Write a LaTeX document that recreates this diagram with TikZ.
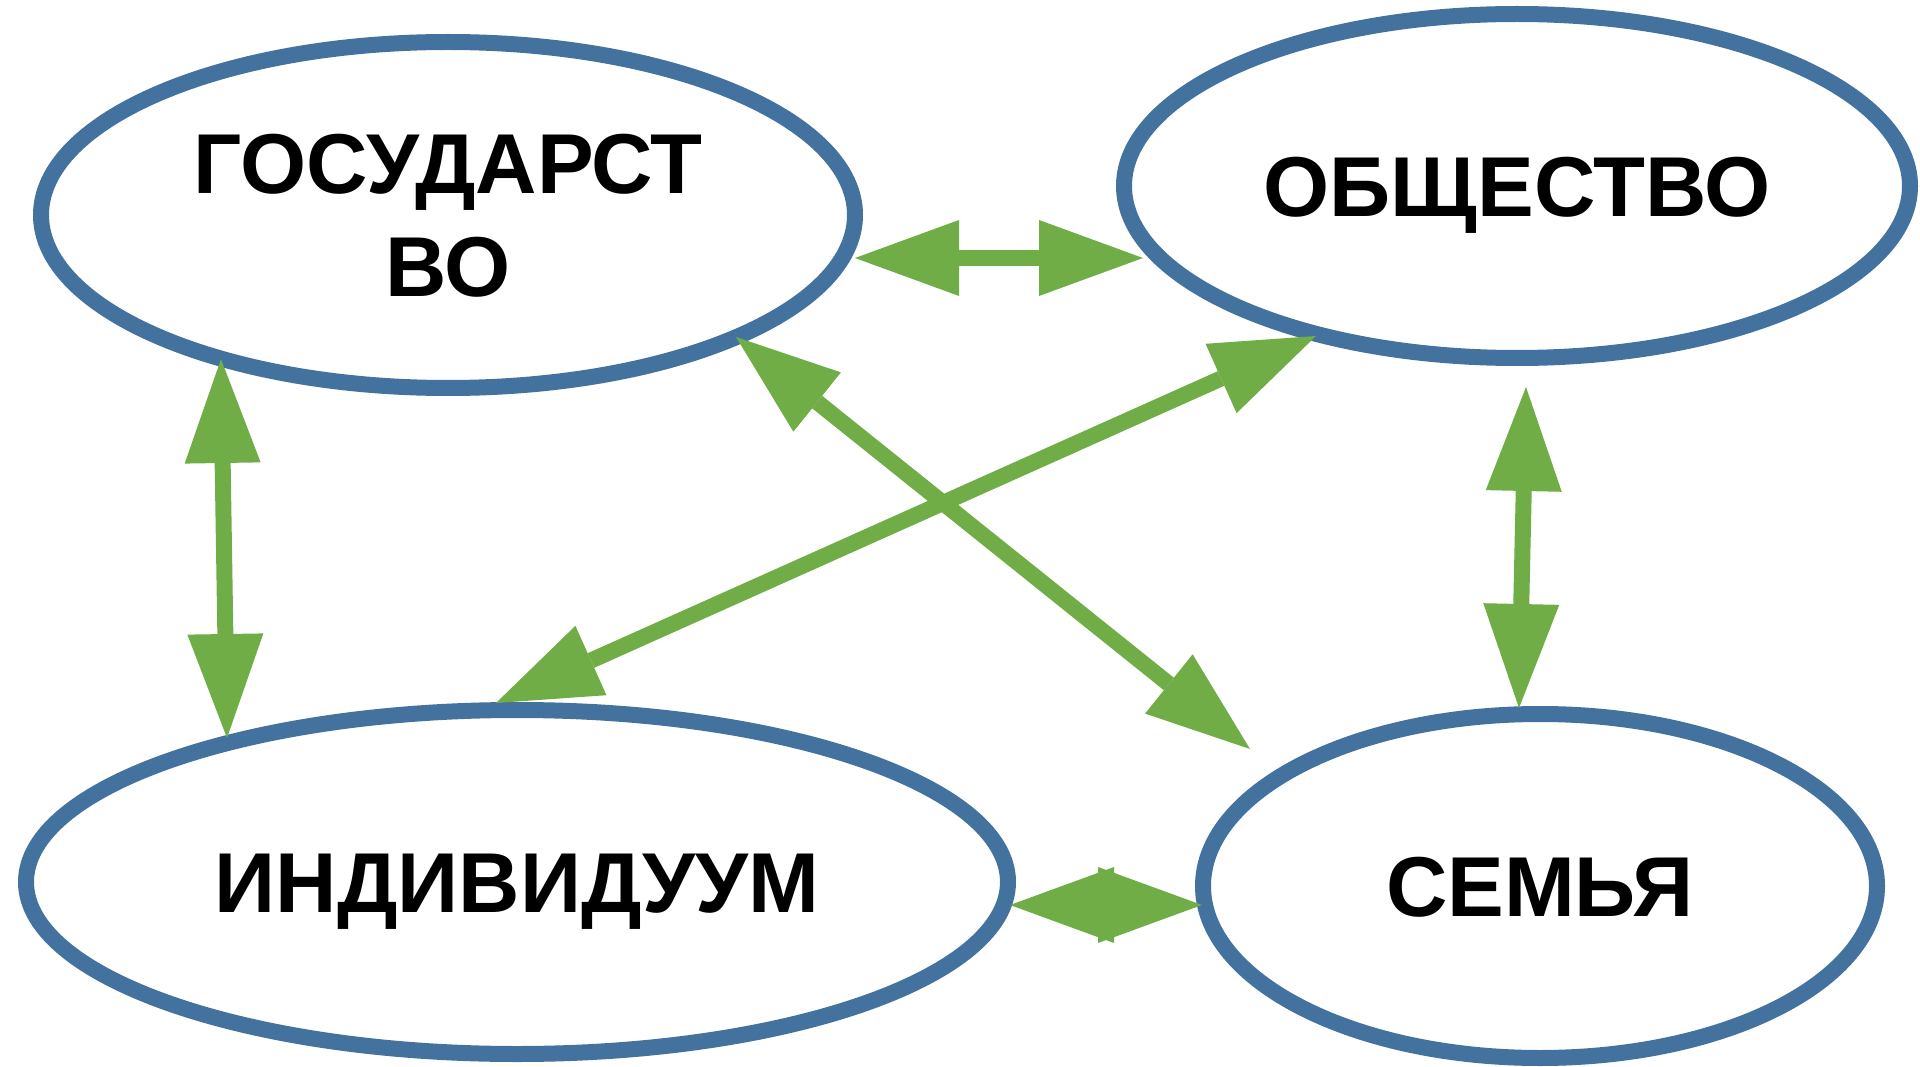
\documentclass[tikz,border=0pt]{standalone}
\usepackage{fontspec}
\setmainfont{Liberation Sans}
\usetikzlibrary{shapes.geometric,arrows.meta}
\definecolor{ringblue}{HTML}{43729E}
\definecolor{arrowgreen}{HTML}{70AD47}
\begin{document}
\begin{tikzpicture}[x=1pt,y=-1pt,
  ring/.style={ellipse, draw=ringblue, line width=16pt, fill=white, inner sep=0pt,
    font=\fontsize{85}{103}\selectfont\bfseries},
  bigtip/.tip={Triangle[length=104pt,width=76pt,line width=0pt]},
  link/.style={draw=arrowgreen, line width=16pt, bigtip-bigtip}]
\useasboundingbox (0,0) rectangle (1920,1067);
% ellipses
\node[ring, minimum width=814pt, minimum height=346pt] (gov) at (448,215)
  {\raisebox{0pt}[164pt][0pt]{\begin{tabular}[b]{@{}c@{}}ГОСУДАРСТ\\ВО\end{tabular}}};
\node[ring, minimum width=786pt, minimum height=344pt] (soc) at (1517,186)
  {\raisebox{0pt}[61pt][0pt]{ОБЩЕСТВО}};
\node[ring, minimum width=982pt, minimum height=344pt] (ind) at (517,882)
  {\raisebox{0pt}[61pt][0pt]{ИНДИВИДУУМ}};
\node[ring, minimum width=674pt, minimum height=344pt] (fam) at (1540,886)
  {\raisebox{0pt}[61pt][0pt]{СЕМЬЯ}};
% arrow end points
\coordinate (gov-soc) at (855,258);
\coordinate (soc-gov) at (1143,258);
\coordinate (gov-ind) at (221,359);
\coordinate (ind-gov) at (227,738);
\coordinate (soc-fam) at (1526,387);
\coordinate (fam-soc) at (1519,708);
\coordinate (ind-soc) at (496,703);
\coordinate (soc-ind) at (1316,336);
\coordinate (gov-fam) at (736,337);
\coordinate (fam-gov) at (1250,749);
\coordinate (ind-fam) at (1010,905);
\coordinate (fam-ind) at (1202,905);
% connectors
\draw[link] (gov-soc) -- (soc-gov);
\draw[link] (gov-ind) -- (ind-gov);
\draw[link] (soc-fam) -- (fam-soc);
\draw[link] (ind-soc) -- (soc-ind);
\draw[link] (gov-fam) -- (fam-gov);
\draw[link] (ind-fam) -- (fam-ind);
\end{tikzpicture}
\end{document}
